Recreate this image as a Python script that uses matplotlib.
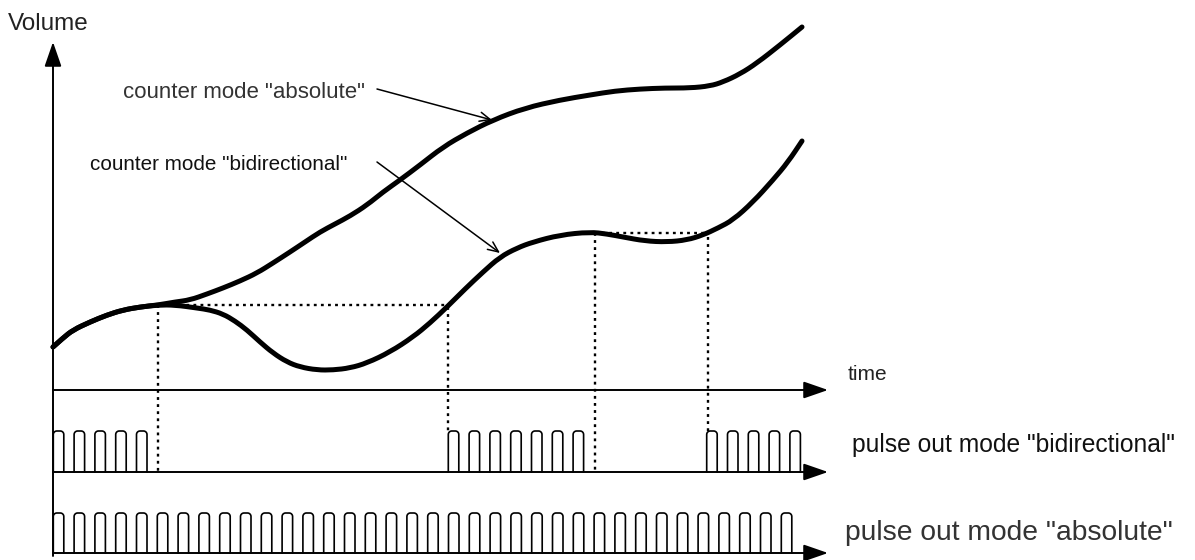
import numpy as np
import matplotlib
matplotlib.use("Agg")
import matplotlib.pyplot as plt
from matplotlib.path import Path
from matplotlib.patches import PathPatch

plt.rcParams['font.family'] = ['Liberation Sans', 'DejaVu Sans']

# ── values (pixel-like units, y grows downward) ──
shared_x = [53, 63, 73, 90, 107, 123, 140, 158]
shared_y = [347, 338, 330, 322, 315, 310, 307, 305]

abs_x = [175, 190, 207, 223, 240, 257, 273, 290, 305, 320, 335, 350, 367, 383,
         400, 420, 443, 467, 493, 525, 560, 590, 615, 640, 665, 690, 710, 723,
         740, 757, 780, 802]
abs_y = [302, 300, 294, 288, 281, 273, 263, 252, 242, 232, 224, 216, 205, 192,
         180, 165, 147, 133, 120, 108, 100, 95, 91, 89, 88, 88, 86, 82,
         74, 63, 45, 27]

bid_x = [175, 197, 210, 223, 235, 247, 260, 273, 287, 300, 317, 333, 350, 367,
         390, 413, 430, 447, 465, 483, 500, 517, 533, 560, 590, 607, 623, 645,
         667, 687, 703, 718, 733, 753, 773, 788, 802]
bid_y = [305, 308, 310, 314, 321, 330, 342, 353, 362, 367, 370, 370, 368, 363,
         352, 337, 323, 307, 289, 272, 257, 248, 242, 235, 232, 234, 237, 241,
         242, 240, 235, 228, 220, 202, 180, 162, 141]

# pulse groups: (first rising edge, number of pulses)
bid_groups = [(53.3, 5), (448.3, 7), (706.7, 5)]
abs_groups = [(53.3, 36)]
pulse_period = 20.8
pulse_width = 10.5

# dotted guide lines
vguide_x = [158, 448, 595, 708]
vguide_top = [305, 307, 233, 237]
vguide_bottom = [472, 431, 472, 431]
hguide_y = [305, 233]
hguide_x0 = [158, 595]
hguide_x1 = [448, 708]

# axis rows
time_y = 390
bid_base, bid_high = 472, 431
abs_base, abs_high = 553, 513
axis_x0, axis_x1 = 53, 828

fig = plt.figure(figsize=(11.95, 5.6), dpi=100)
ax = fig.add_axes([0, 0, 1, 1])
ax.set_xlim(0, 1195)
ax.set_ylim(560, 0)
ax.axis('off')

axis_arrow = dict(arrowstyle='-|>,head_length=1.5,head_width=0.52',
                  lw=1.4, color='black', shrinkA=0, shrinkB=0, mutation_scale=10)
# vertical axis
ax.annotate('', xy=(axis_x0, 42), xytext=(axis_x0, 556), arrowprops=axis_arrow)
# horizontal axes
for yb in [time_y, bid_base, abs_base]:
    ax.annotate('', xy=(axis_x1, yb), xytext=(axis_x0, yb), arrowprops=axis_arrow)


def smooth_curve(xs, ys):
    # quadratic bezier path: read points act as control points
    pts = np.column_stack([xs, ys]).astype(float)
    verts = [pts[0]]
    codes = [Path.MOVETO]
    for i in range(1, len(pts) - 1):
        verts += [pts[i], (pts[i] + pts[i + 1]) / 2]
        codes += [Path.CURVE3, Path.CURVE3]
    verts.append(pts[-1])
    codes.append(Path.LINETO)
    return Path(verts, codes)


for cx, cy in [(shared_x + abs_x, shared_y + abs_y), (shared_x + bid_x, shared_y + bid_y)]:
    ax.add_patch(PathPatch(smooth_curve(cx, cy), fill=False, edgecolor='black',
                           lw=3.6, capstyle='round', joinstyle='round'))

# dotted guides
dot = (0, (1.2, 1.8))
for x, y0, y1 in zip(vguide_x, vguide_top, vguide_bottom):
    ax.plot([x, x], [y0, y1], color='black', lw=1.7, linestyle=dot)
for y, x0, x1 in zip(hguide_y, hguide_x0, hguide_x1):
    ax.plot([x0, x1], [y, y], color='black', lw=1.7, linestyle=dot)


def pulse_shape(s, base, high, w=pulse_width, r=3.5):
    t1 = np.linspace(np.pi, 1.5 * np.pi, 8)
    t2 = np.linspace(1.5 * np.pi, 2 * np.pi, 8)
    xs = np.concatenate([[s], s + r + r * np.cos(t1), s + w - r + r * np.cos(t2), [s + w]])
    ys = np.concatenate([[base], high + r + r * np.sin(t1), high + r + r * np.sin(t2), [base]])
    return xs, ys


for groups, base, high in [(bid_groups, bid_base, bid_high),
                           (abs_groups, abs_base, abs_high)]:
    for start, n in groups:
        for k in range(n):
            px, py = pulse_shape(start + k * pulse_period, base, high)
            ax.plot(px, py, color='black', lw=1.2)

# annotation arrows
thin = dict(arrowstyle='->,head_length=0.75,head_width=0.33', lw=1.1,
            color='black', shrinkA=0, shrinkB=0, mutation_scale=10)
ax.annotate('', xy=(492, 120), xytext=(377, 89), arrowprops=thin)
ax.annotate('', xy=(500, 253), xytext=(377, 162), arrowprops=thin)

# texts
ax.text(8, 30, 'Volume', fontsize=17.5, color='#222222', va='baseline')
ax.text(123, 98, 'counter mode "absolute"', fontsize=16, color='#333333', va='baseline')
ax.text(90, 170, 'counter mode "bidirectional"', fontsize=14.9, color='#111111', va='baseline')
ax.text(848, 380, 'time', fontsize=15, color='#222222', va='baseline')
ax.text(852, 452, 'pulse out mode "bidirectional"', fontsize=17.7, color='#111111', va='baseline')
ax.text(845, 540, 'pulse out mode "absolute"', fontsize=20.3, color='#333333', va='baseline')

fig.savefig('out.png', dpi=100)
